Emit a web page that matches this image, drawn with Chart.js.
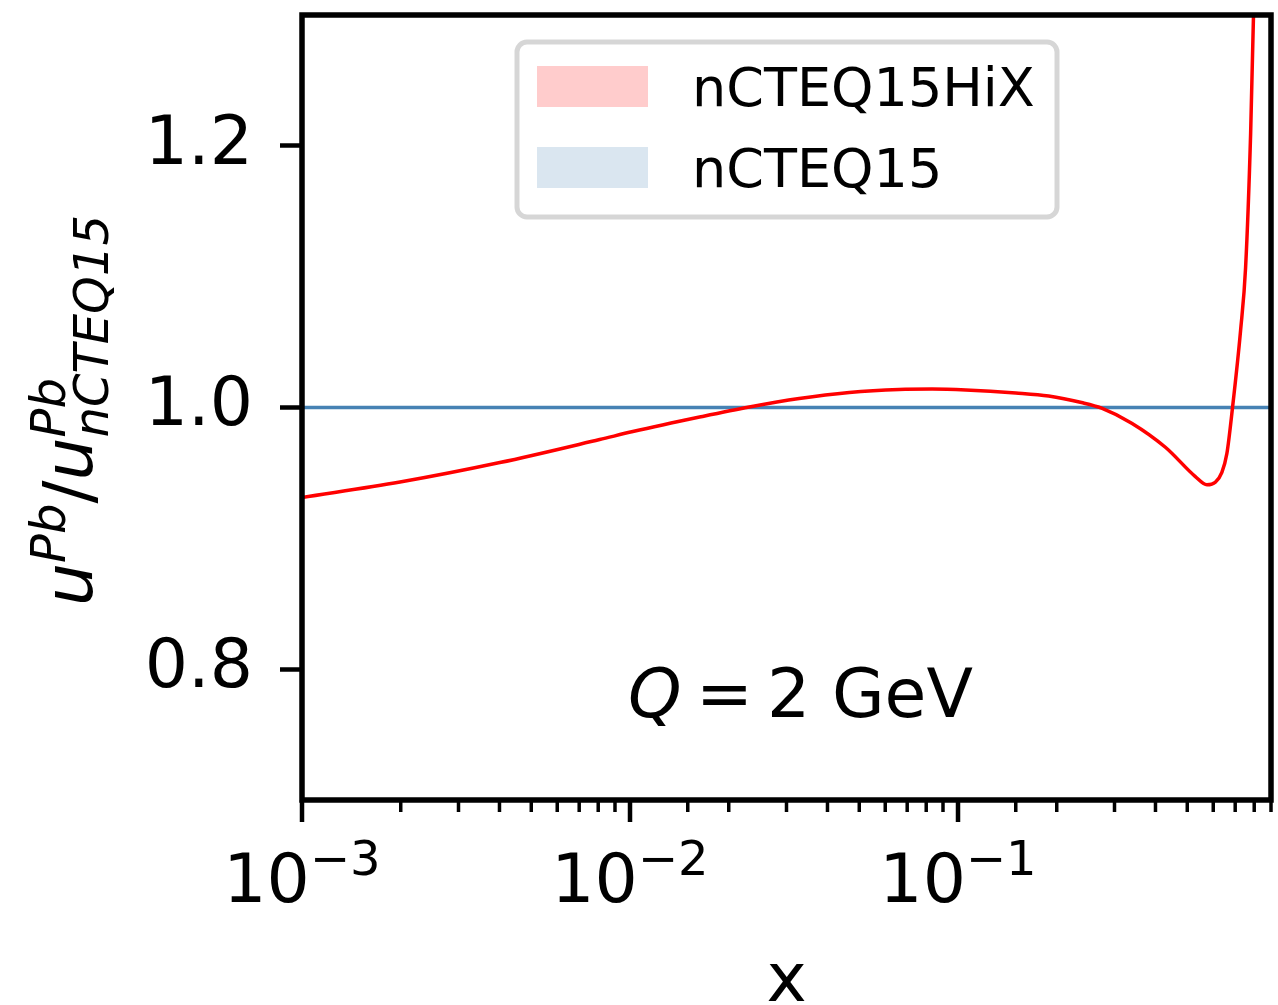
<!DOCTYPE html>
<html>
<head>
<meta charset="utf-8">
<script src="https://cdn.jsdelivr.net/npm/chart.js@4"></script>
<style>
  html, body { margin: 0; padding: 0; background: #fff; }
</style>
</head>
<body>
<canvas id="myChart" width="1278" height="1005"></canvas>
<script>
// x values (log axis) and the nCTEQ15HiX / nCTEQ15 ratio
const xValues = [0.001, 0.00199, 0.00401, 0.00808, 0.0102, 0.0163, 0.0231, 0.0328, 0.0466, 0.0661,
                 0.0834, 0.1057, 0.150, 0.189, 0.238, 0.274, 0.3385, 0.4288,
                 0.5292, 0.574, 0.6088, 0.6375, 0.6603, 0.687, 0.727, 0.753, 0.780,
                 0.796, 0.81];
const hixRatio = [0.9312, 0.943, 0.9579, 0.9755, 0.9816, 0.9927, 1.0004, 1.0069, 1.0115, 1.0138,
                  1.0141, 1.0134, 1.0111, 1.0088, 1.0038, 0.9995, 0.988, 0.9696,
                  0.9472, 0.9409, 0.9429, 0.9505, 0.9648, 1.000, 1.059, 1.107, 1.209,
                  1.300, 1.42];
const refX = [0.001, 0.9];
const refRatio = [1.0, 1.0];
const seriesLabels = ['nCTEQ15HiX', 'nCTEQ15'];
const xMajorTicks = [1e-3, 1e-2, 1e-1];
const yTicks = [0.8, 1.0, 1.2];

const FONT = '"DejaVu Sans", sans-serif';

const mplPlugin = {
  id: 'mplFrame',
  afterDraw(chart) {
    const ctx = chart.ctx;
    const area = chart.chartArea;
    const xs = chart.scales.x;
    ctx.save();
    ctx.fillStyle = '#000';
    ctx.strokeStyle = '#000';

    // x ticks, major and minor
    xs.ticks.forEach(t => {
      if (t.value < xs.min || t.value > xs.max) return;
      const px = xs.getPixelForValue(t.value);
      const e = Math.log10(t.value);
      const major = Math.abs(e - Math.round(e)) < 1e-6;
      ctx.lineWidth = major ? 4.5 : 3.5;
      ctx.beginPath();
      ctx.moveTo(px, area.bottom);
      ctx.lineTo(px, area.bottom + (major ? 22 : 12));
      ctx.stroke();
    });

    // x tick labels 10^-n
    ctx.textAlign = 'left';
    ctx.textBaseline = 'alphabetic';
    xMajorTicks.forEach(v => {
      const px = xs.getPixelForValue(v);
      const exp = '\u2212' + Math.abs(Math.round(Math.log10(v)));
      ctx.font = '68px ' + FONT;
      const wBase = ctx.measureText('10').width;
      ctx.font = '48px ' + FONT;
      const wExp = ctx.measureText(exp).width;
      const x0 = px - (wBase + wExp) / 2;
      ctx.font = '68px ' + FONT;
      ctx.fillText('10', x0, 902);
      ctx.font = '48px ' + FONT;
      ctx.fillText(exp, x0 + wBase, 875);
    });

    // spines
    ctx.lineWidth = 5.5;
    ctx.strokeRect(area.left, area.top, area.right - area.left, area.bottom - area.top);

    // x axis title
    ctx.font = '68px ' + FONT;
    ctx.textAlign = 'center';
    ctx.fillText('x', (area.left + area.right) / 2, 1001);

    // y axis title  u^{Pb}/u^{Pb}_{nCTEQ15}
    const big = 'italic 68px ' + FONT;
    const small = 'italic 48px ' + FONT;
    ctx.textAlign = 'left';
    ctx.font = big; const wu = ctx.measureText('u').width;
    ctx.font = '68px ' + FONT; const wSlash = ctx.measureText('/').width;
    ctx.font = small; const wPb = ctx.measureText('Pb').width;
    const wSub = ctx.measureText('nCTEQ15').width;
    const total = wu + wPb + wSlash + wu + Math.max(wPb, wSub);
    ctx.save();
    ctx.translate(92, (area.top + area.bottom) / 2 + total / 2 + 3);
    ctx.rotate(-Math.PI / 2);
    let cx = 0;
    ctx.font = big; ctx.fillText('u', cx, 0); cx += wu;
    ctx.font = small; ctx.fillText('Pb', cx, -27); cx += wPb;
    ctx.font = '68px ' + FONT; ctx.fillText('/', cx, 0); cx += wSlash;
    ctx.font = big; ctx.fillText('u', cx, 0); cx += wu;
    ctx.font = small; ctx.fillText('Pb', cx, -27); ctx.fillText('nCTEQ15', cx, 16);
    ctx.restore();

    // annotation
    ctx.font = 'italic 68px ' + FONT;
    ctx.fillText('Q', 628, 717);
    ctx.font = '68px ' + FONT;
    ctx.fillText('=', 696, 717);
    ctx.fillText('2 GeV', 767, 717);

    // legend
    const lx = 517, ly = 42, lw = 540, lh = 175;
    ctx.beginPath();
    ctx.roundRect(lx, ly, lw, lh, 10);
    ctx.fillStyle = 'rgba(255,255,255,0.8)';
    ctx.fill();
    ctx.lineWidth = 5;
    ctx.strokeStyle = 'rgba(204,204,204,0.8)';
    ctx.stroke();
    ctx.font = '54px ' + FONT;
    chart.data.datasets.forEach((ds, i) => {
      const top = 66 + i * 81;
      ctx.fillStyle = ds.backgroundColor;
      ctx.fillRect(537, top, 111, 41);
      ctx.fillStyle = '#000';
      ctx.fillText(ds.label, 692, top + 40);
    });
    ctx.restore();
  }
};

new Chart(document.getElementById('myChart'), {
  type: 'line',
  data: {
    datasets: [{
      label: seriesLabels[0],
      data: xValues.map((x, i) => ({ x: x, y: hixRatio[i] })),
      borderColor: 'rgb(255,0,0)',
      backgroundColor: 'rgba(255,0,0,0.2)',
      borderWidth: 3.5,
      pointRadius: 0,
      cubicInterpolationMode: 'monotone',
      fill: false
    }, {
      label: seriesLabels[1],
      data: refX.map((x, i) => ({ x: x, y: refRatio[i] })),
      borderColor: 'rgb(70,130,180)',
      backgroundColor: 'rgba(70,130,180,0.2)',
      borderWidth: 3.5,
      pointRadius: 0,
      fill: false
    }]
  },
  options: {
    responsive: false,
    animation: false,
    devicePixelRatio: 1,
    layout: { padding: { top: 15, right: 7, left: 0, bottom: 0 } },
    plugins: { legend: { display: false }, tooltip: { enabled: false } },
    scales: {
      x: {
        type: 'logarithmic',
        min: 0.001,
        max: 0.9,
        ticks: { display: false },
        grid: { display: false },
        border: { display: false },
        afterFit: s => { s.height = 205; s.paddingLeft = 0; s.paddingRight = 0; }
      },
      y: {
        type: 'linear',
        min: 0.7,
        max: 1.3,
        afterBuildTicks: s => { s.ticks = yTicks.map(v => ({ value: v })); },
        afterFit: s => { s.width = 302; s.paddingTop = 0; s.paddingBottom = 0; },
        ticks: {
          font: { family: 'DejaVu Sans', size: 68 },
          color: '#000',
          padding: 27,
          autoSkip: false,
          callback: v => v.toFixed(1)
        },
        grid: { drawOnChartArea: false, drawTicks: true, tickLength: 22, tickWidth: 4.5, tickColor: '#000' },
        border: { display: false }
      }
    }
  },
  plugins: [mplPlugin]
});
</script>
</body>
</html>
